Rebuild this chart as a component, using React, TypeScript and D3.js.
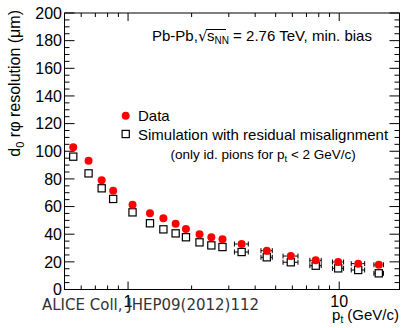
import React from "react";
import * as d3 from "d3";

const pt = [0.55, 0.65, 0.75, 0.85, 1.05, 1.27, 1.47, 1.68, 1.88, 2.18, 2.48, 2.8, 3.45, 4.54, 5.9, 7.74, 9.89, 12.3, 15.4];
const dataRes = [102.9, 93.2, 79.0, 71.5, 61.3, 55.1, 51.5, 47.6, 43.8, 40.0, 37.8, 36.4, 32.9, 28.1, 24.2, 21.1, 19.9, 18.7, 17.9];
const simRes = [96.1, 84.0, 73.2, 65.5, 55.8, 47.9, 43.5, 40.6, 37.8, 34.1, 31.9, 30.7, 27.1, 23.3, 19.7, 17.2, 15.3, 14.1, 11.7];
const ptErr = [0, 0, 0, 0, 0, 0, 0, 0, 0, 0, 0, 0, 0.26, 0.28, 0.48, 0.48, 0.6, 0.9, 0.8];

const yTicks = [0, 20, 40, 60, 80, 100, 120, 140, 160, 180, 200];
const xTickLabels = [1, 10];

const FONT = "'Liberation Sans', Arial, Helvetica, sans-serif";

export default function App() {
  const W = 402, H = 328;
  const L = 64.5, R = 399.5, T = 13, B = 289.5;
  const x = d3.scaleLog().domain([0.5, 19.3]).range([L, R]);
  const y = d3.scaleLinear().domain([0, 200]).range([B, T]);

  const xMinor: number[] = [];
  for (const dec of [0.1, 1, 10]) {
    for (let k = 1; k <= 9; k++) {
      const v = k * dec;
      if (v > 0.5 && v < 19.3) xMinor.push(v);
    }
  }
  const yMinor = d3.range(0, 201, 5);

  const hs = 3.6; // square half-size
  const rc = 4; // circle radius

  const errBar = (cx: number, cy: number, e: number, half: number, key: string) => {
    if (!e) return null;
    const x0 = x(cx - e), x1 = x(cx + e), xc = x(cx);
    return (
      <g key={key} stroke="#000" strokeWidth={1}>
        <line x1={x0} x2={xc - half} y1={cy} y2={cy} />
        <line x1={xc + half} x2={x1} y1={cy} y2={cy} />
        <line x1={x0} x2={x0} y1={cy - 2.5} y2={cy + 2.5} />
        <line x1={x1} x2={x1} y1={cy - 2.5} y2={cy + 2.5} />
      </g>
    );
  };

  return (
    <svg width={W} height={H} style={{ position: "absolute", left: 0, top: 0, background: "#fff" }}>
      <rect x={0} y={0} width={W} height={H} fill="#fff" />
      {/* frame */}
      <rect x={L} y={T} width={R - L} height={B - T} fill="none" stroke="#000" strokeWidth={1} />
      {/* x ticks */}
      {xMinor.map((v) => {
        const major = v === 1 || v === 10;
        const len = major ? 8 : 4;
        return (
          <g key={"xt" + v} stroke="#000" strokeWidth={1}>
            <line x1={x(v)} x2={x(v)} y1={B} y2={B - len} />
            <line x1={x(v)} x2={x(v)} y1={T} y2={T + len} />
          </g>
        );
      })}
      {/* y ticks */}
      {yMinor.map((v) => {
        const major = v % 20 === 0;
        const len = major ? 10 : 5;
        return (
          <g key={"yt" + v} stroke="#000" strokeWidth={1}>
            <line x1={L} x2={L + len} y1={y(v)} y2={y(v)} />
            <line x1={R} x2={R - len} y1={y(v)} y2={y(v)} />
          </g>
        );
      })}
      {/* y tick labels */}
      {yTicks.map((v) => (
        <text key={"yl" + v} x={62} y={y(v) + 5.8} textAnchor="end" fontFamily={FONT} fontSize={16} fill="#000">
          {v}
        </text>
      ))}
      {/* x tick labels */}
      {xTickLabels.map((v) => (
        <text key={"xl" + v} x={x(v)} y={307} textAnchor="middle" fontFamily={FONT} fontSize={16} fill="#000">
          {v}
        </text>
      ))}
      {/* axis titles */}
      <text transform="translate(20,10) rotate(-90)" textAnchor="end" fontFamily={FONT} fontSize={16} fill="#000">
        d<tspan fontSize={11} dy={4}>0</tspan>
        <tspan dy={-4}> rφ resolution (μm)</tspan>
      </text>
      <text x={399} y={320} textAnchor="end" fontFamily={FONT} fontSize={15} fill="#000">
        p<tspan fontSize={10} dy={3}>t</tspan>
        <tspan dy={-3}> (GeV/c)</tspan>
      </text>
      {/* error bars */}
      {pt.map((p, i) => errBar(p, y(dataRes[i]), ptErr[i], rc, "ed" + i))}
      {pt.map((p, i) => errBar(p, y(simRes[i]), ptErr[i], hs, "es" + i))}
      {/* markers */}
      {pt.map((p, i) => (
        <rect key={"s" + i} x={x(p) - hs} y={y(simRes[i]) - hs} width={2 * hs} height={2 * hs} fill="none" stroke="#000" strokeWidth={1.2} />
      ))}
      {pt.map((p, i) => (
        <circle key={"c" + i} cx={x(p)} cy={y(dataRes[i])} r={rc} fill="#ff0000" />
      ))}
      {/* legend */}
      <circle cx={125.7} cy={115.7} r={rc} fill="#ff0000" />
      <text x={138} y={121} fontFamily={FONT} fontSize={15} fill="#000">Data</text>
      <rect x={125.7 - hs} y={134 - hs} width={2 * hs} height={2 * hs} fill="none" stroke="#000" strokeWidth={1.2} />
      <text x={138} y={139.5} fontFamily={FONT} fontSize={15} fill="#000">Simulation with residual misalignment</text>
      <text x={170.5} y={159} fontFamily={FONT} fontSize={13.5} fill="#000">
        (only id. pions for p<tspan fontSize={9.5} dy={3}>t</tspan>
        <tspan dy={-3}> &lt; 2 GeV/c)</tspan>
      </text>
      {/* header */}
      <text x={152} y={41} fontFamily={FONT} fontSize={15} fill="#000">
        Pb-Pb,
      </text>
      <text x={198} y={41} fontFamily={"'DejaVu Sans', sans-serif"} fontSize={15} fill="#000">√</text>
      <line x1={206} x2={226} y1={29.5} y2={29.5} stroke="#000" strokeWidth={1} />
      <text x={207} y={41} fontFamily={FONT} fontSize={15} fill="#000">
        s<tspan fontSize={10} dy={3}>NN</tspan>
        <tspan dy={-3}> = 2.76 TeV, min. bias</tspan>
      </text>
      {/* credit */}
      <text x={42} y={310} fontFamily={"'DejaVu Sans', Verdana, sans-serif"} fontSize={15} fill="#333">
        ALICE Coll,  JHEP09(2012)112
      </text>
    </svg>
  );
}
